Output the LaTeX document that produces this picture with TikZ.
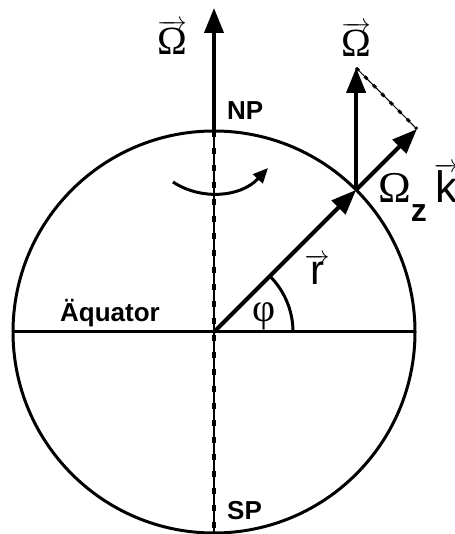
\documentclass[tikz,border=0pt]{standalone}
\usepackage{fontspec}
\setmainfont{Liberation Sans}
\newfontfamily\greekfont{Liberation Serif}
\usetikzlibrary{positioning,arrows.meta,calc}
\newcommand{\vecsym}[1]{$\overrightarrow{\mbox{#1}}$}

\begin{document}
\begin{tikzpicture}[
    x=1pt, y=1pt,
    vec/.style={-{Triangle[length=25pt,width=19pt]}, line width=4pt},
    turn/.style={-{Triangle[length=15pt,width=13pt]}, line width=3pt},
    rim/.style={line width=3pt},
    axisline/.style={line width=1.3pt},
    axisdots/.style={line width=4pt, dash pattern=on 6pt off 11pt},
    lbl/.style={font=\fontsize{26}{30}\selectfont\bfseries, inner sep=0pt},
    sym/.style={font=\fontsize{40}{48}\selectfont\greekfont, inner sep=0pt}
  ]
    \useasboundingbox (0,0) rectangle (454,534);

    % earth
    \coordinate (c) at (214,202);
    \coordinate (np) at (214,403);
    \coordinate (sp) at (214,1);
    \coordinate (w) at (13,202);
    \coordinate (e) at (415,202);
    \coordinate (top) at (214,526);
    \coordinate (p) at ($(c)+(45:201)$);
    \coordinate (om) at ($(p)+(0,122)$);
    \coordinate (omz) at ($(p)+(45:86)$);

    \draw[rim] (c) circle[radius=201];
    \draw[rim] (w) -- (e);
    \draw[axisline] (np) -- (sp);
    \draw[axisdots] (np) -- (sp);
    \draw[vec] (np) -- (top);

    % rotation
    \draw[turn] (173,352) .. controls (200,334) and (240,336) .. (268,366);

    % vectors at p
    \draw[vec] (c) -- (p);
    \draw[vec] (p) -- (om);
    \draw[vec] (p) -- (omz);
    \draw[line width=1pt] (om) -- (omz);
    \draw[line width=3pt, dash pattern=on 4pt off 8pt] (om) -- (omz);

    % angle
    \draw[rim] ($(c)+(79,0)$) arc[start angle=0, end angle=45, radius=79];

    % labels
    \node[sym, anchor=base] (omega) at (172,479) {\vecsym{Ω}};
    \node[sym, anchor=base] (omegap) at (356,477) {\vecsym{Ω}};
    \node[lbl, anchor=base west] (npl) at (227,414) {NP};
    \node[lbl, anchor=base west] (spl) at (227,14) {SP};
    \node[lbl, anchor=base west] (eq) at (60,212) {Äquator};
    \node[sym, anchor=base] (phi) at (264,212) {φ};
    \node[font=\fontsize{42}{48}\selectfont, inner sep=0pt, anchor=base] (r) at (317,249) {\vecsym{r}};
    \node[font=\fontsize{44}{50}\selectfont, inner sep=0pt, anchor=base west] (omzl) at (378,331)
      {{\greekfont Ω}\raisebox{-19pt}{\fontsize{32}{36}\selectfont\bfseries z}\,\vecsym{k}};
\end{tikzpicture}
\end{document}
